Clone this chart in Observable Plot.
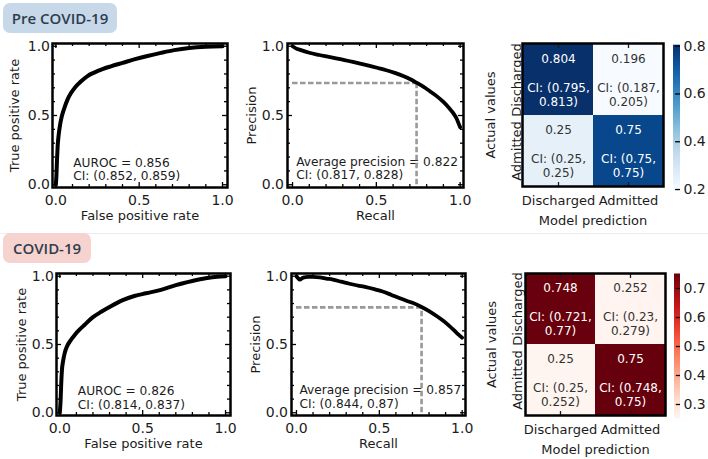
<!DOCTYPE html>
<html><head><meta charset="utf-8">
<script src="https://cdn.jsdelivr.net/npm/d3@7"></script>
<script src="https://cdn.jsdelivr.net/npm/@observablehq/plot@0.6"></script>
<style>
body{margin:0;background:#fff;}
#root{position:relative;width:708px;height:459px;overflow:hidden;background:#fff;}
.panel{position:absolute;}
.tag{position:absolute;height:30px;line-height:30px;border-radius:7px;font-family:"Open Sans",sans-serif;font-weight:600;font-size:15px;color:#2e3d4d;text-align:center;}
.sep{position:absolute;left:0;top:233px;width:708px;height:1px;background:#ededed;}
</style></head>
<body>
<div id="root">
  <div class="sep"></div>
  <div class="tag" style="left:3px;top:3px;width:114px;background:#c7d8e8">Pre COVID-19</div>
  <div class="tag" style="left:3px;top:233px;width:88px;background:#f7d3cf">COVID-19</div>
</div>
<script>
// ---------- data ----------
const rocPreFpr = [0,0.004,0.007,0.011,0.017,0.025,0.035,0.05,0.07,0.09,0.12,0.15,0.19,0.23,0.28,0.33,0.40,0.47,0.55,0.63,0.71,0.80,0.90,1];
const rocPreTpr = [0,0.08,0.18,0.28,0.36,0.43,0.49,0.55,0.615,0.66,0.71,0.745,0.785,0.81,0.835,0.855,0.88,0.905,0.93,0.952,0.972,0.988,0.997,1];
const rocPreAuc = 0.856, rocPreCi = [0.852, 0.859];

const rocCovidFpr = [0,0.005,0.008,0.012,0.02,0.03,0.045,0.065,0.09,0.12,0.15,0.2,0.25,0.3,0.38,0.45,0.52,0.61,0.7,0.8,0.88,0.95,1];
const rocCovidTpr = [0,0.1,0.2,0.3,0.38,0.44,0.49,0.53,0.57,0.61,0.645,0.70,0.74,0.775,0.825,0.855,0.875,0.90,0.935,0.965,0.985,0.997,1];
const rocCovidAuc = 0.826, rocCovidCi = [0.814, 0.837];

const prPreRecall = [0,0.02,0.05,0.1,0.16,0.21,0.26,0.31,0.36,0.41,0.46,0.51,0.56,0.61,0.66,0.7,0.74,0.78,0.82,0.86,0.9,0.93,0.96,0.98,0.99,1.0];
const prPrePrecision = [1.0,0.985,0.972,0.953,0.937,0.925,0.913,0.9,0.887,0.873,0.858,0.843,0.827,0.808,0.786,0.764,0.737,0.708,0.675,0.64,0.598,0.56,0.515,0.475,0.445,0.415];
const prPreAp = 0.822, prPreCi = [0.817, 0.828];
const prPreOperating = {recall: 0.74, precision: 0.735};

const prCovidRecall = [0,0.01,0.02,0.04,0.07,0.1,0.14,0.18,0.22,0.27,0.32,0.37,0.42,0.47,0.52,0.57,0.62,0.66,0.7,0.755,0.8,0.85,0.9,0.95,0.98,1.0];
const prCovidPrecision = [1.0,0.985,0.975,0.99,0.995,0.995,0.992,0.983,0.975,0.96,0.945,0.932,0.92,0.905,0.888,0.865,0.84,0.822,0.805,0.775,0.745,0.705,0.66,0.605,0.57,0.55];
const prCovidAp = 0.857, prCovidCi = [0.844, 0.87];
const prCovidOperating = {recall: 0.755, precision: 0.772};

const cmCategories = ["Discharged", "Admitted"];
const cmPreValues = [[0.804, 0.196], [0.25, 0.75]];
const cmPreLow    = [[0.795, 0.187], [0.25, 0.75]];
const cmPreHigh   = [[0.813, 0.205], [0.25, 0.75]];
const cmCovidValues = [[0.748, 0.252], [0.25, 0.75]];
const cmCovidLow    = [[0.721, 0.23], [0.25, 0.748]];
const cmCovidHigh   = [[0.77, 0.279], [0.252, 0.75]];

const majorTicks = [0, 0.5, 1];
const minorTicks = [0.1, 0.2, 0.3, 0.4, 0.6, 0.7, 0.8, 0.9];
const cbPreTicks = [0.2, 0.4, 0.6, 0.8];
const cbCovidTicks = [0.3, 0.4, 0.5, 0.6, 0.7];

// ---------- drawing ----------
const root = document.getElementById("root");
const style = {fontFamily: "'DejaVu Sans', sans-serif", fontSize: "13px", color: "#1c1c1c", background: "none", overflow: "visible"};
function place(node, left, top) {
  const d = document.createElement("div");
  d.className = "panel"; d.style.left = left + "px"; d.style.top = top + "px";
  d.appendChild(node); root.appendChild(d);
}
const mid = {textAnchor: "middle", lineAnchor: "middle"};
const yDomain = [-0.02, 1.02];
function curvePanel(o) {
  const data = o.xs.map((x, i) => ({x, y: o.ys[i]}));
  const [xa, xb] = o.xDomain, [ya, yb] = yDomain;
  const W = o.width - o.ml - o.mr, H = o.height - o.mt - o.mb;
  const px = (xb - xa) / W, py = (yb - ya) / H;
  const tk = {stroke: "black", strokeWidth: 1.3};
  const marks = [
    Plot.ruleX(majorTicks, {x: d => d, y1: ya, y2: ya + 5 * py, ...tk}),
    Plot.ruleX(majorTicks, {x: d => d, y1: yb, y2: yb - 5 * py, ...tk}),
    Plot.ruleX(minorTicks, {x: d => d, y1: ya, y2: ya + 3 * py, ...tk}),
    Plot.ruleX(minorTicks, {x: d => d, y1: yb, y2: yb - 3 * py, ...tk}),
    Plot.ruleY(majorTicks, {y: d => d, x1: xa, x2: xa + 5 * px, ...tk}),
    Plot.ruleY(majorTicks, {y: d => d, x1: xb, x2: xb - 5 * px, ...tk}),
    Plot.ruleY(minorTicks, {y: d => d, x1: xa, x2: xa + 3 * px, ...tk}),
    Plot.ruleY(minorTicks, {y: d => d, x1: xb, x2: xb - 3 * px, ...tk}),
    Plot.text([o.note], {frameAnchor: "bottom-left", dx: o.ndx, dy: o.ndy, textAnchor: "start", lineAnchor: "middle", fontSize: 12.2, lineHeight: 1.1})
  ];
  if (o.op) {
    const dash = {stroke: "#999", strokeWidth: 2.6, strokeDasharray: "5.5,2.5"};
    marks.push(Plot.ruleY([o.op], {y: "precision", x1: 0, x2: "recall", ...dash}));
    marks.push(Plot.ruleX([o.op], {x: "recall", y1: 0, y2: "precision", ...dash}));
  }
  marks.push(
    Plot.line(data, {x: "x", y: "y", stroke: "black", strokeWidth: o.lw, curve: "monotone-x", clip: true}),
    Plot.text(majorTicks, {x: d => d, frameAnchor: "bottom", dy: 13, text: d => d.toFixed(1), fontSize: 14, ...mid}),
    Plot.text(majorTicks, {y: d => d, frameAnchor: "left", dx: -o.ytp, textAnchor: "end", lineAnchor: "middle", text: d => d.toFixed(1), fontSize: 14}),
    Plot.text([o.xLabel], {frameAnchor: "bottom", dy: 28, ...mid}),
    Plot.text([o.yLabel], {frameAnchor: "left", dx: -o.ylo, rotate: -90, ...mid}),
    Plot.frame({stroke: "black", strokeWidth: 2.5})
  );
  return Plot.plot({
    width: o.width, height: o.height, marginLeft: o.ml, marginRight: o.mr, marginTop: o.mt, marginBottom: o.mb,
    x: {domain: o.xDomain, axis: null}, y: {domain: yDomain, axis: null}, style, marks
  });
}
function cmPanel(o) {
  const cells = [];
  cmCategories.forEach((a, i) => cmCategories.forEach((p, j) =>
    cells.push({actual: a, pred: p, value: o.values[i][j], lo: o.low[i][j], hi: o.high[i][j]})));
  const vals = cells.map(d => d.value);
  const lo = d3.min(vals), hi = d3.max(vals), half = (lo + hi) / 2;
  const label = d => `${d.value}\n\nCI: (${d.lo},\n${d.hi})`;
  return Plot.plot({
    width: o.width, height: o.height, marginLeft: o.ml, marginRight: o.mr, marginTop: o.mt, marginBottom: o.mb,
    x: {domain: cmCategories, padding: 0, axis: null, label: null},
    y: {domain: cmCategories, padding: 0, axis: null, label: null},
    color: {type: "linear", scheme: o.scheme, domain: [lo, hi]},
    style,
    marks: [
      Plot.cell(cells, {x: "pred", y: "actual", fill: "value", inset: 0}),
      Plot.text(cells.filter(d => d.value > half), {x: "pred", y: "actual", text: label, fill: "white", fontSize: 12, lineHeight: 1.17, ...mid}),
      Plot.text(cells.filter(d => d.value <= half), {x: "pred", y: "actual", text: label, fill: "#333", fontSize: 12, lineHeight: 1.17, ...mid}),
      Plot.axisX({anchor: "bottom", tickSize: -4, tickFormat: () => "", label: null, strokeWidth: 1.3}),
      Plot.axisX({anchor: "top", tickSize: -4, tickFormat: () => "", label: null, strokeWidth: 1.3}),
      Plot.text(cmCategories, {x: d => d, frameAnchor: "bottom", dy: 14, fontSize: 13, ...mid}),
      Plot.text(cmCategories, {y: d => d, frameAnchor: "left", dx: -o.ytx, rotate: -90, fontSize: 13, ...mid}),
      Plot.text(["Model prediction"], {frameAnchor: "bottom", dy: 34, ...mid}),
      Plot.text(["Actual values"], {frameAnchor: "left", dx: -o.ylo, rotate: -90, ...mid}),
      Plot.frame({stroke: "black", strokeWidth: 2.5})
    ]
  });
}
function colorbar(o, scale, id) {
  const [lo, hi] = scale.domain;
  const defs = () => {
    const ns = "http://www.w3.org/2000/svg";
    const d = document.createElementNS(ns, "defs");
    const g = document.createElementNS(ns, "linearGradient");
    g.setAttribute("id", id); g.setAttribute("x1", "0"); g.setAttribute("y1", "1"); g.setAttribute("x2", "0"); g.setAttribute("y2", "0");
    for (let i = 0; i <= 20; i++) {
      const s = document.createElementNS(ns, "stop");
      s.setAttribute("offset", i / 20);
      s.setAttribute("stop-color", scale.apply(lo + (hi - lo) * i / 20));
      g.appendChild(s);
    }
    d.appendChild(g);
    return d;
  };
  return Plot.plot({
    width: o.width, height: o.height, marginLeft: o.ml, marginRight: o.mr, marginTop: o.mt, marginBottom: o.mb,
    x: {domain: [0, 1], axis: null}, y: {domain: [lo, hi], axis: null}, style,
    marks: [
      defs,
      Plot.rect([0], {x1: 0, x2: 1, y1: lo, y2: hi, fill: `url(#${id})`}),
      Plot.ruleY(o.ticks, {y: d => d, x1: 0.3, x2: 1, stroke: "black", strokeWidth: 1.3}),
      Plot.text(o.ticks, {y: d => d, frameAnchor: "right", dx: 3, textAnchor: "start", lineAnchor: "middle", text: d => d.toFixed(1), fontSize: 14})
    ]
  });
}

// top row
place(curvePanel({xs: rocPreFpr, ys: rocPreTpr, xDomain: [-0.02, 1.03], width: 240, height: 194, ml: 52, mr: 13, mt: 7, mb: 43,
  lw: 4, note: `AUROC = ${rocPreAuc}\nCI: (${rocPreCi[0]}, ${rocPreCi[1]})`, ndx: 20.7, ndy: -18.5,
  xLabel: "False positive rate", yLabel: "True positive rate", ylo: 37.3, ytp: 2.5}), 0, 36);
place(curvePanel({xs: prPreRecall, ys: prPrePrecision, xDomain: [-0.03, 1.02], width: 235, height: 194, ml: 47, mr: 12, mt: 7, mb: 43,
  lw: 3.8, op: prPreOperating, note: `Average precision = ${prPreAp}\nCI: (${prPreCi[0]}, ${prPreCi[1]})`, ndx: 8.7, ndy: -19.3,
  xLabel: "Recall", yLabel: "Precision", ylo: 35.3, ytp: 3.5}), 240, 36);
const cmPre = cmPanel({values: cmPreValues, low: cmPreLow, high: cmPreHigh, scheme: "blues", width: 190, height: 194, ml: 47, mr: 2, mt: 7, mb: 44, ytx: 5.5, ylo: 31.3});
place(cmPre, 475, 36);
place(colorbar({width: 43, height: 194, ml: 8, mr: 28, mt: 8.7, mb: 40, ticks: cbPreTicks}, cmPre.scale("color"), "cbPre"), 665, 36);

// bottom row
place(curvePanel({xs: rocCovidFpr, ys: rocCovidTpr, xDomain: [-0.02, 1.03], width: 240, height: 193, ml: 56, mr: 10, mt: 7, mb: 44,
  lw: 4, note: `AUROC = ${rocCovidAuc}\nCI: (${rocCovidCi[0]}, ${rocCovidCi[1]})`, ndx: 21.3, ndy: -17.8,
  xLabel: "False positive rate", yLabel: "True positive rate", ylo: 34.3, ytp: 2.5}), 0, 266);
place(curvePanel({xs: prCovidRecall, ys: prCovidPrecision, xDomain: [-0.03, 1.02], width: 235, height: 193, ml: 51, mr: 10, mt: 7, mb: 44,
  lw: 3.8, op: prCovidOperating, note: `Average precision = ${prCovidAp}\nCI: (${prCovidCi[0]}, ${prCovidCi[1]})`, ndx: 8, ndy: -19,
  xLabel: "Recall", yLabel: "Precision", ylo: 36, ytp: 3.5}), 240, 266);
const cmCovid = cmPanel({values: cmCovidValues, low: cmCovidLow, high: cmCovidHigh, scheme: "reds", width: 192, height: 193, ml: 50, mr: 2, mt: 7, mb: 44, ytx: 8, ylo: 33.3});
place(cmCovid, 475, 266);
place(colorbar({width: 43, height: 193, ml: 9, mr: 28, mt: 7.5, mb: 40.5, ticks: cbCovidTicks}, cmCovid.scale("color"), "cbCovid"), 665, 266);
</script>
</body></html>
